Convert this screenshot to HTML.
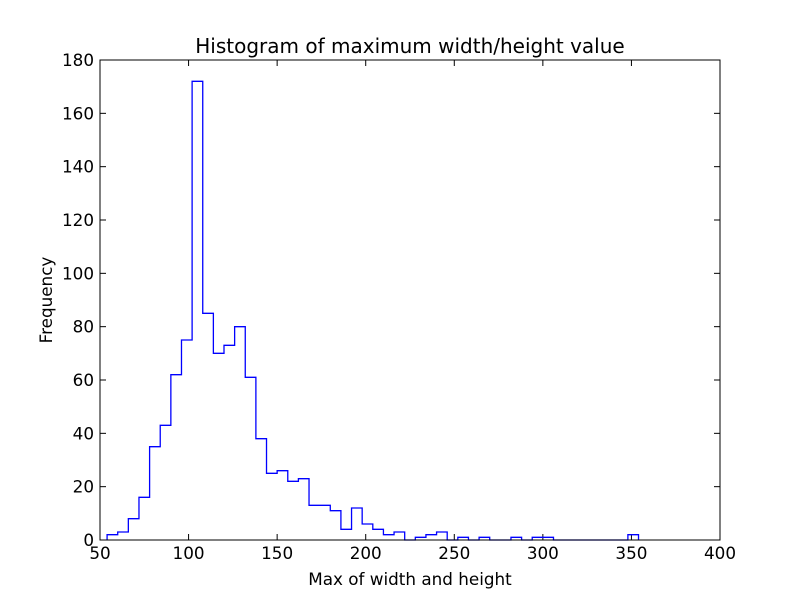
<!DOCTYPE html>
<html><head><meta charset="utf-8"><style>
body{margin:0;background:#fff;}
svg{display:block;font-family:"DejaVu Sans","Liberation Sans",sans-serif;}
</style></head><body>
<svg id="chart" width="800" height="600">
<rect width="800" height="600" fill="#fff"/>
<text x="410" y="53" text-anchor="middle" font-size="20">Histogram of maximum width/height value</text>
<text x="410" y="585" text-anchor="middle" font-size="16.8">Max of width and height</text>
<text transform="translate(52,300) rotate(-90)" text-anchor="middle" font-size="16.8">Frequency</text>
<g id="ticks"></g>
<path id="hist" fill="none" stroke="#0000ff" stroke-width="1.3"/>
<rect x="100" y="60" width="620" height="480" fill="none" stroke="#000" stroke-width="1"/>
</svg>
<script>
const binStart = 54;
const binWidth = 6;
const counts = [2,3,8,16,35,43,62,75,172,85,70,73,80,61,38,25,26,22,23,13,13,11,4,12,6,4,2,3,0,1,2,3,0,1,0,1,0,0,1,0,1,1,0,0,0,0,0,0,0,2];
const xTicks = [50,100,150,200,250,300,350,400];
const yTicks = [0,20,40,60,80,100,120,140,160,180];
const X0=100,X1=720,Y0=540,Y1=60;
function sx(v){return X0+(v-50)/(400-50)*(X1-X0);}
function sy(v){return Y0-(v/180)*(Y0-Y1);}
let d='M'+sx(binStart)+','+sy(0);
counts.forEach((c,i)=>{
  const a=binStart+i*binWidth,b=a+binWidth;
  d+=' L'+sx(a)+','+sy(c)+' L'+sx(b)+','+sy(c);
});
d+=' L'+sx(binStart+counts.length*binWidth)+','+sy(0);
document.getElementById('hist').setAttribute('d',d);
const g=document.getElementById('ticks');
const NS='http://www.w3.org/2000/svg';
xTicks.forEach(t=>{
  const x=sx(t);
  [[Y0,Y0-6],[Y1,Y1+6]].forEach(p=>{
    const l=document.createElementNS(NS,'line');
    l.setAttribute('x1',x);l.setAttribute('x2',x);l.setAttribute('y1',p[0]);l.setAttribute('y2',p[1]);
    l.setAttribute('stroke','#000');
    
    
    g.appendChild(l);
  });
  const tx=document.createElementNS(NS,'text');
  tx.setAttribute('x',x);tx.setAttribute('y',Y0+19);tx.setAttribute('text-anchor','middle');tx.setAttribute('font-size','16.8');
  tx.textContent=t;
  
  
  g.appendChild(tx);
});
yTicks.forEach(t=>{
  const y=sy(t);
  [[X0,X0+6],[X1,X1-6]].forEach(p=>{
    const l=document.createElementNS(NS,'line');
    l.setAttribute('x1',p[0]);l.setAttribute('x2',p[1]);l.setAttribute('y1',y);l.setAttribute('y2',y);
    l.setAttribute('stroke','#000');
    
    
    g.appendChild(l);
  });
  const tx=document.createElementNS(NS,'text');
  tx.setAttribute('x',X0-6);tx.setAttribute('y',y+6);tx.setAttribute('text-anchor','end');tx.setAttribute('font-size','16.8');
  tx.textContent=t;
  
  
  g.appendChild(tx);
});
</script>
</body></html>
